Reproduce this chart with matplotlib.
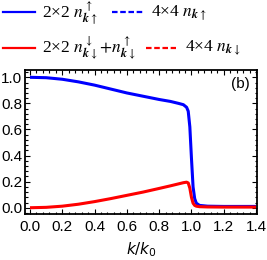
import matplotlib
matplotlib.use("Agg")
import matplotlib.pyplot as plt
from matplotlib.lines import Line2D
from matplotlib.ticker import MultipleLocator

k = [0.0, 0.1, 0.2, 0.3, 0.4, 0.5, 0.6, 0.7, 0.8, 0.87, 0.92, 0.95, 0.97, 0.98,
     0.99, 1.0, 1.01, 1.02, 1.03, 1.05, 1.1, 1.2, 1.4]
n_up = [1.0, 0.997, 0.985, 0.965, 0.94, 0.91, 0.88, 0.855, 0.83, 0.815, 0.8, 0.79,
        0.77, 0.74, 0.62, 0.38, 0.16, 0.07, 0.035, 0.018, 0.012, 0.01, 0.01]
n_down = [0.0, 0.003, 0.012, 0.027, 0.047, 0.07, 0.095, 0.12, 0.148, 0.168, 0.183,
          0.192, 0.196, 0.19, 0.15, 0.08, 0.035, 0.018, 0.012, 0.008, 0.006, 0.005, 0.005]

xticks = [0.0, 0.2, 0.4, 0.6, 0.8, 1.0, 1.2, 1.4]
yticks = [0.0, 0.2, 0.4, 0.6, 0.8, 1.0]

fig = plt.figure(figsize=(2.67, 2.6), dpi=100)
ax = fig.add_axes([25/267, 1-214/260, 232/267, 144/260])

ax.plot(k, n_up, color='#0000ff', lw=2.2, solid_capstyle='butt')
ax.plot(k, n_down, color='#ff0000', lw=2.2, solid_capstyle='butt')

ax.set_xlim(-0.031, 1.406)
ax.set_ylim(-0.048, 1.056)
ax.set_xticks(xticks)
ax.set_yticks(yticks)
ax.set_xticklabels([f"{v:.1f}" for v in xticks], fontfamily='Liberation Sans', fontsize=11)
ax.set_yticklabels([f"{v:.1f}" for v in yticks], fontfamily='Liberation Sans', fontsize=11)
ax.xaxis.set_minor_locator(MultipleLocator(0.04))
ax.yaxis.set_minor_locator(MultipleLocator(0.04))
ax.tick_params(which='both', direction='in', top=True, right=True, width=0.8)
ax.tick_params(axis='x', pad=4)
ax.tick_params(axis='y', pad=2)
ax.tick_params(which='major', length=3.5)
ax.tick_params(which='minor', length=1.8)
for s in ax.spines.values():
    s.set_linewidth(1.3)

ax.set_xlabel(r"$k/k_0$", fontsize=11, labelpad=5, math_fontfamily='dejavusans')

ax.text(0.97, 0.905, "(b)", transform=ax.transAxes, ha='right', va='center',
        fontfamily='Liberation Sans', fontsize=11)

# legend
def leg_line(x0, x1, y, color, ls):
    fig.add_artist(Line2D([x0/267, x1/267], [1-y/260, 1-y/260], color=color, lw=1.6,
                          ls=ls))

lf = dict(fontfamily='Liberation Serif', fontsize=12.5, va='center', ha='left',
          math_fontfamily='stix')
leg_line(3, 35, 12, '#0000ff', '-')
fig.text(42/267, 1-13.5/260, r"2×2 $n_{\boldsymbol{k}\uparrow}^{\uparrow}$", **lf)
leg_line(112, 143, 12, '#0000ff', (0, (2.5, 1.2)))
fig.text(151/267, 1-13/260, r"4×4 $n_{\boldsymbol{k}\uparrow}$", **lf)
leg_line(3, 35, 48, '#ff0000', '-')
fig.text(42/267, 1-48/260, r"2×2 $n_{\boldsymbol{k}\downarrow}^{\downarrow}\!+\!n_{\boldsymbol{k}\downarrow}^{\uparrow}$", **lf)
leg_line(146, 176, 48, '#ff0000', (0, (2.5, 1.2)))
fig.text(185/267, 1-48/260, r"4×4 $n_{\boldsymbol{k}\downarrow}$", **lf)

fig.savefig("out.png", dpi=100)
